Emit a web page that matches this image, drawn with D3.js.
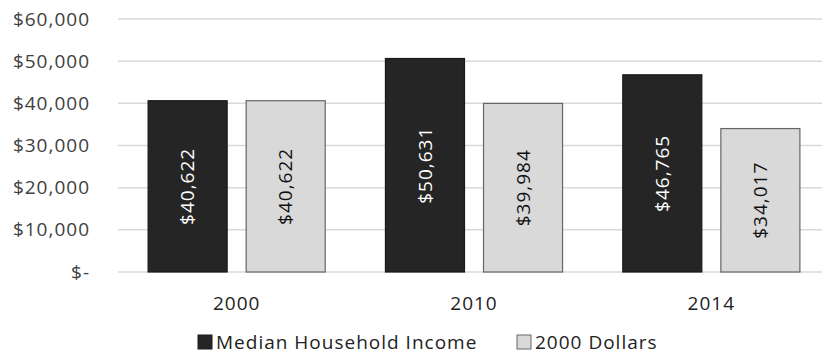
<!DOCTYPE html>
<html>
<head>
<meta charset="utf-8">
<script src="https://cdn.jsdelivr.net/npm/d3@7"></script>
<style>
  body { margin: 0; background: #fff; }
  svg text { font-family: "Open Sans", sans-serif; letter-spacing: 1px; }
</style>
</head>
<body>
<div class="chart"></div>
<script>
const years = ["2000", "2010", "2014"]
const seriesNames = ["Median Household Income", "2000 Dollars"]
const medianIncome = [40622, 50631, 46765]
const dollars2000 = [40622, 39984, 34017]
const yTicks = [0, 10000, 20000, 30000, 40000, 50000, 60000]

const width = 822
const height = 358
const colors = ["#252525", "#d9d9d9"]
const strokes = ["#1a1a1a", "#666"]

const svg = d3.select('.chart')
  .append('svg')
  .attr("width", width)
  .attr("height", height)

const x = d3.scaleBand()
  .domain(years)
  .range([118, 830])

// bars ~79px wide, ~19px gap, ~30px margin each side of the group
const xSub = d3.scaleBand()
  .domain(seriesNames)
  .range([0, x.bandwidth()])
  .paddingInner(0.194)
  .paddingOuter(0.307)

const y = d3.scaleLinear()
  .domain([0, 60000])
  .range([272, 19])

const fmt = d3.format(",")

// gridlines
svg.append("g")
  .selectAll("line")
  .data(yTicks)
  .join("line")
  .attr("x1", 118)
  .attr("x2", 822)
  .attr("y1", d => y(d))
  .attr("y2", d => y(d))
  .attr("stroke", "#d9d9d9")
  .attr("stroke-width", 1.5)

// y axis labels
svg.append("g")
  .selectAll("text")
  .data(yTicks)
  .join("text")
  .attr("x", 90)
  .attr("y", d => y(d))
  .attr("dy", "0.35em")
  .attr("text-anchor", "end")
  .attr("font-size", 19)
  .attr("fill", "#404040")
  .text(d => d === 0 ? "$-" : "$" + fmt(d))

const rows = years.map((yr, i) => ({
  year: yr,
  values: [
    { key: seriesNames[0], value: medianIncome[i], s: 0 },
    { key: seriesNames[1], value: dollars2000[i], s: 1 }
  ]
}))

const groups = svg.append("g")
  .selectAll("g")
  .data(rows)
  .join("g")
  .attr("transform", d => `translate(${x(d.year)},0)`)

groups.selectAll("rect")
  .data(d => d.values)
  .join("rect")
  .attr("x", d => xSub(d.key))
  .attr("width", xSub.bandwidth())
  .attr("y", d => y(d.value))
  .attr("height", d => y(0) - y(d.value))
  .attr("fill", d => colors[d.s])
  .attr("stroke", d => strokes[d.s])
  .attr("stroke-width", 1.2)

groups.selectAll("text.val")
  .data(d => d.values)
  .join("text")
  .attr("class", "val")
  .attr("transform", d => {
    const cx = xSub(d.key) + xSub.bandwidth() / 2
    const cy = (y(d.value) + y(0)) / 2
    return `translate(${cx},${cy}) rotate(-90)`
  })
  .attr("text-anchor", "middle")
  .attr("dy", "0.35em")
  .attr("font-size", 19)
  .attr("fill", d => d.s === 0 ? "#fff" : "#111")
  .text(d => "$" + fmt(d.value))

// category labels
svg.append("g")
  .selectAll("text")
  .data(years)
  .join("text")
  .attr("x", d => x(d) + x.bandwidth() / 2)
  .attr("y", 303)
  .attr("dy", "0.35em")
  .attr("text-anchor", "middle")
  .attr("font-size", 19)
  .attr("fill", "#222")
  .text(d => d)

// legend
const legendX = [198, 517]
const legend = svg.append("g")
  .selectAll("g")
  .data(seriesNames)
  .join("g")
  .attr("transform", (d, i) => `translate(${legendX[i]},342)`)

legend.append("rect")
  .attr("x", 0)
  .attr("y", -7)
  .attr("width", 14)
  .attr("height", 14)
  .attr("fill", (d, i) => colors[i])
  .attr("stroke", (d, i) => strokes[i])

legend.append("text")
  .attr("x", 18)
  .attr("dy", "0.35em")
  .attr("font-size", 19)
  .attr("fill", "#222")
  .text(d => d)
</script>
</body>
</html>
